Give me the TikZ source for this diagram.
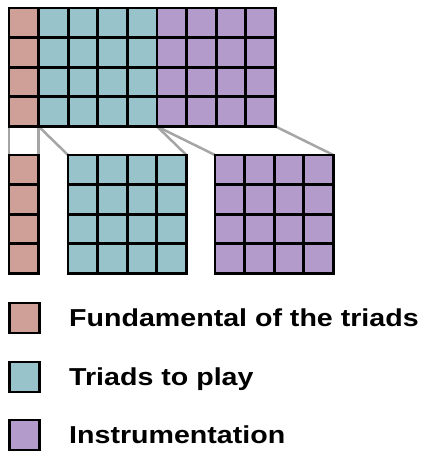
\documentclass[tikz,border=0pt]{standalone}
\usepackage{fontspec}
\setmainfont{Liberation Sans}
\newfontfamily\legendfont[FakeStretch=1.167]{Liberation Sans Bold}
\usetikzlibrary{positioning,backgrounds}
\definecolor{cellred}{RGB}{207,160,151}
\definecolor{cellteal}{RGB}{153,195,202}
\definecolor{cellpurple}{RGB}{179,155,203}
\definecolor{linkgray}{RGB}{165,165,165}

\begin{document}
\begin{tikzpicture}[
  x=1pt, y=-1pt,
  cell/.style={rectangle, draw=black, line width=2.7pt, minimum size=29.6pt, inner sep=0pt, outer sep=0pt},
  legbox/.style={cell, minimum size=30pt},
  legtext/.style={font=\legendfont\fontsize{24.5}{28}\selectfont, inner sep=0pt, text height=16pt, text depth=0pt},
  link/.style={draw=linkgray, line width=2.5pt}
]
\useasboundingbox (0,0) rectangle (423,451);

% full block
\foreach \j in {1,...,4} {
  \node[cell, fill=cellred] (t-1-\j) at (23.8, {8+29.6*(\j-0.5)}) {};
  \foreach \i in {2,...,5}
    \node[cell, fill=cellteal] (t-\i-\j) at ({9+29.6*(\i-0.5)}, {8+29.6*(\j-0.5)}) {};
  \foreach \i in {6,...,9}
    \node[cell, fill=cellpurple] (t-\i-\j) at ({9+29.6*(\i-0.5)}, {8+29.6*(\j-0.5)}) {};
}

% split blocks
\foreach \j in {1,...,4} {
  \node[cell, fill=cellred] (f-\j) at (23.8, {155+29.6*(\j-0.5)}) {};
  \foreach \i in {1,...,4} {
    \node[cell, fill=cellteal] (p-\i-\j) at ({68+29.6*(\i-0.5)}, {155+29.6*(\j-0.5)}) {};
    \node[cell, fill=cellpurple] (s-\i-\j) at ({215+29.6*(\i-0.5)}, {155+29.6*(\j-0.5)}) {};
  }
}

\begin{scope}[on background layer]
\draw[link] (t-1-4.south west) -- (f-1.north west);
\draw[link] (t-1-4.south east) -- (f-1.north east);
\draw[link] (t-2-4.south west) -- (p-1-1.north west);
\draw[link] (t-5-4.south east) -- (p-4-1.north east);
\draw[link] (t-6-4.south west) -- (s-1-1.north west);
\draw[link] (t-9-4.south east) -- (s-4-1.north east);
\end{scope}

% legend
\node[legbox, fill=cellred] (k-fund) at (24.5,318) {};
\node[legtext, right=29.5pt of k-fund] (l-fund) {Fundamental of the triads};
\node[legbox, fill=cellteal] (k-play) at (24.5,377) {};
\node[legtext, right=29.5pt of k-play] (l-play) {Triads to play};
\node[legbox, fill=cellpurple] (k-inst) at (24.5,435) {};
\node[legtext, right=29.5pt of k-inst] (l-inst) {Instrumentation};
\end{tikzpicture}
\end{document}
